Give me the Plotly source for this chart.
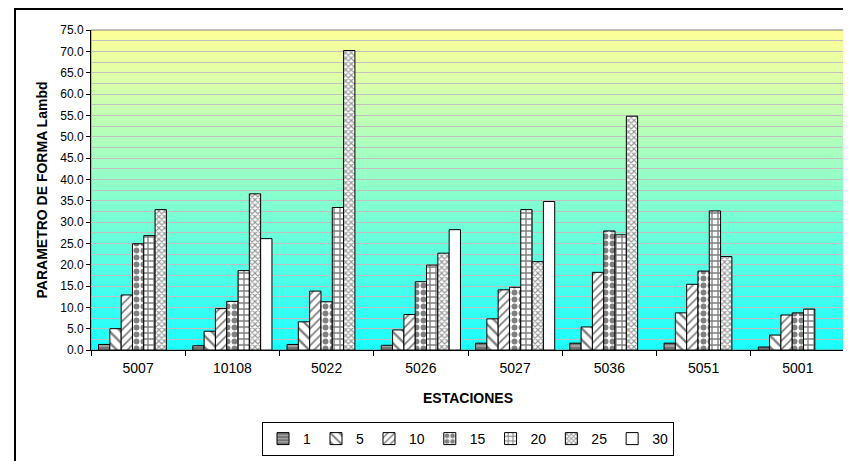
import plotly.graph_objects as go

estaciones = ["5007", "10108", "5022", "5026", "5027", "5036", "5051", "5001"]
s1 = [1.3, 1.0, 1.3, 1.1, 1.6, 1.6, 1.6, 0.7]
s5 = [5.0, 4.4, 6.6, 4.7, 7.3, 5.4, 8.7, 3.5]
s10 = [12.9, 9.7, 13.8, 8.3, 14.1, 18.2, 15.4, 8.2]
s15 = [24.9, 11.4, 11.3, 16.0, 14.7, 27.9, 18.5, 8.7]
s20 = [26.8, 18.6, 33.4, 19.9, 32.9, 27.0, 32.6, 9.6]
s25 = [32.9, 36.6, 70.2, 22.7, 20.7, 54.8, 21.9, None]
s30 = [None, 26.1, None, 28.2, 34.8, None, None, None]

series = [("1", s1), ("5", s5), ("10", s10), ("15", s15), ("20", s20), ("25", s25), ("30", s30)]
patterns = [
    dict(shape="-", fgcolor="#222222", bgcolor="#a0a0a0", size=4, solidity=0.35),
    dict(shape="\\", fgcolor="#000000", bgcolor="#ffffff", size=8, solidity=0.3),
    dict(shape="/", fgcolor="#000000", bgcolor="#ffffff", size=6, solidity=0.3),
    dict(shape=".", fgcolor="#000000", bgcolor="#ffffff", size=7, solidity=0.55),
    dict(shape="+", fgcolor="#000000", bgcolor="#ffffff", size=6, solidity=0.4),
    dict(shape="x", fgcolor="#333333", bgcolor="#ffffff", size=4, solidity=0.5),
    dict(shape="", fgcolor="#000000", bgcolor="#ffffff"),
]

fig = go.Figure()
for (name, vals), pat in zip(series, patterns):
    fig.add_trace(go.Bar(
        x=estaciones, y=vals, name=name,
        marker=dict(color="#ffffff", pattern=pat, line=dict(color="#000000", width=1)),
    ))

# page body has an 8px margin: figure is drawn at (8, 8) in the window
W, H = 843, 453
L, T = 83, 22
R = 6
B = 111

shapes = []
N = 80
top = (255, 255, 153)
bot = (25, 255, 255)
for i in range(N):
    t = (i + 0.5) / N
    c = tuple(int(round(bot[k] + (top[k] - bot[k]) * t)) for k in range(3))
    shapes.append(dict(type="rect", xref="paper", yref="paper", x0=0, x1=1,
                       y0=i / N, y1=(i + 1) / N, fillcolor="rgb(%d,%d,%d)" % c,
                       line=dict(width=0), layer="below"))
shapes.append(dict(type="rect", xref="paper", yref="paper", x0=0, x1=1, y0=0, y1=1,
                   line=dict(color="#808080", width=1), layer="below"))
shapes.append(dict(type="rect", xref="paper", yref="paper", x0=-76 / 754, x1=1.1,
                   y0=-0.6, y1=1 + 21 / 320, line=dict(color="#000000", width=2), layer="below"))

fig.update_layout(
    width=W, height=H,
    margin=dict(l=L, r=R, t=T, b=B, autoexpand=False),
    paper_bgcolor="#ffffff", plot_bgcolor="rgba(0,0,0,0)",
    font=dict(family="Liberation Sans, Arial, sans-serif", color="#000000", size=12),
    barmode="group", bargap=0.16, bargroupgap=0,
    shapes=shapes,
    showlegend=True,
    legend=dict(orientation="h", x=460 / W, xanchor="center", xref="container",
                y=1 - 431 / H, yanchor="middle", yref="container",
                bordercolor="#000000", borderwidth=1, bgcolor="#ffffff",
                font=dict(size=14), itemwidth=30, traceorder="normal", tracegroupgap=0),
    xaxis=dict(type="category", showline=True, linecolor="#000000", linewidth=1,
               ticks="outside", ticklen=5, tickcolor="#000000", tickson="boundaries",
               showgrid=False, tickfont=dict(size=14), ticklabelstandoff=5,
               title=dict(text="<b>ESTACIONES</b>", font=dict(size=14), standoff=18)),
    yaxis=dict(range=[0, 75], dtick=5, tickformat=".1f", showline=True, linecolor="#000000",
               linewidth=1, ticks="outside", ticklen=4, tickcolor="#000000",
               showgrid=True, gridcolor="#c0c0c0", gridwidth=1,
               minor=dict(dtick=2.5, showgrid=True, gridcolor="#c0c0c0", gridwidth=1),
               zeroline=False, tickfont=dict(size=12),
               title=dict(text="<b>PARAMETRO DE FORMA Lambd</b>", font=dict(size=14), standoff=9)),
)

fig.write_html("out.html")
